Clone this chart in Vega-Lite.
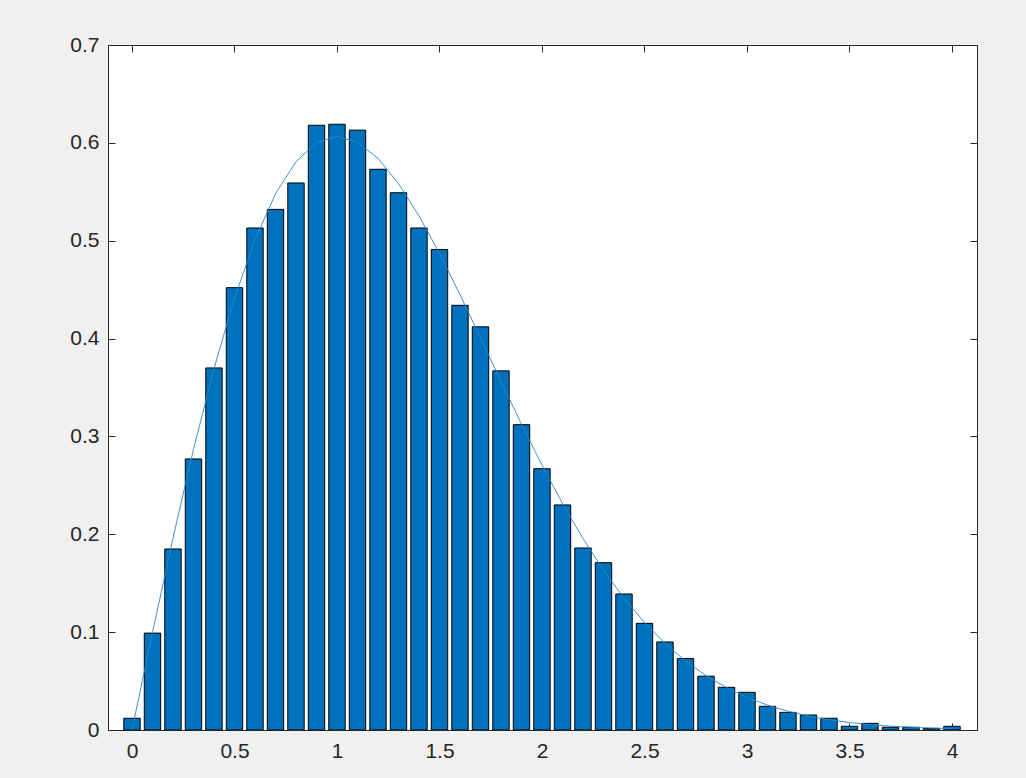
{
  "$schema": "https://vega.github.io/schema/vega-lite/v6.json",
  "width": 869,
  "height": 685,
  "autosize": {"type": "none"},
  "padding": {"left": 108, "top": 45, "right": 49, "bottom": 48},
  "background": "#f0f0f0",
  "view": {"fill": "white", "stroke": "#262626", "strokeWidth": 1},
  "config": {
    "axis": {
      "labelFont": "Liberation Sans",
      "labelFontSize": 21,
      "labelColor": "#262626",
      "domainColor": "#262626",
      "tickColor": "#262626",
      "tickSize": -7,
      "grid": false,
      "title": null,
      "format": "~g"
    }
  },
  "data": {
    "values": [
      {"x": 0.0, "h": 0.012, "pdf": 0.0},
      {"x": 0.1, "h": 0.099, "pdf": 0.0995},
      {"x": 0.2, "h": 0.185, "pdf": 0.1960},
      {"x": 0.3, "h": 0.277, "pdf": 0.2868},
      {"x": 0.4, "h": 0.370, "pdf": 0.3692},
      {"x": 0.5, "h": 0.452, "pdf": 0.4412},
      {"x": 0.6, "h": 0.513, "pdf": 0.5012},
      {"x": 0.7, "h": 0.532, "pdf": 0.5479},
      {"x": 0.8, "h": 0.559, "pdf": 0.5809},
      {"x": 0.9, "h": 0.618, "pdf": 0.6003},
      {"x": 1.0, "h": 0.619, "pdf": 0.6065},
      {"x": 1.1, "h": 0.613, "pdf": 0.6007},
      {"x": 1.2, "h": 0.573, "pdf": 0.5841},
      {"x": 1.3, "h": 0.549, "pdf": 0.5584},
      {"x": 1.4, "h": 0.513, "pdf": 0.5254},
      {"x": 1.5, "h": 0.491, "pdf": 0.4870},
      {"x": 1.6, "h": 0.434, "pdf": 0.4449},
      {"x": 1.7, "h": 0.412, "pdf": 0.4008},
      {"x": 1.8, "h": 0.367, "pdf": 0.3562},
      {"x": 1.9, "h": 0.312, "pdf": 0.3125},
      {"x": 2.0, "h": 0.267, "pdf": 0.2707},
      {"x": 2.1, "h": 0.230, "pdf": 0.2315},
      {"x": 2.2, "h": 0.186, "pdf": 0.1956},
      {"x": 2.3, "h": 0.171, "pdf": 0.1633},
      {"x": 2.4, "h": 0.139, "pdf": 0.1347},
      {"x": 2.5, "h": 0.109, "pdf": 0.1098},
      {"x": 2.6, "h": 0.090, "pdf": 0.0885},
      {"x": 2.7, "h": 0.073, "pdf": 0.0705},
      {"x": 2.8, "h": 0.055, "pdf": 0.0556},
      {"x": 2.9, "h": 0.0436, "pdf": 0.0433},
      {"x": 3.0, "h": 0.0385, "pdf": 0.0333},
      {"x": 3.1, "h": 0.0242, "pdf": 0.0254},
      {"x": 3.2, "h": 0.018, "pdf": 0.0191},
      {"x": 3.3, "h": 0.0153, "pdf": 0.0143},
      {"x": 3.4, "h": 0.012, "pdf": 0.0105},
      {"x": 3.5, "h": 0.0038, "pdf": 0.00765},
      {"x": 3.6, "h": 0.0068, "pdf": 0.00552},
      {"x": 3.7, "h": 0.0028, "pdf": 0.00394},
      {"x": 3.8, "h": 0.0028, "pdf": 0.00278},
      {"x": 3.9, "h": 0.0017, "pdf": 0.00194},
      {"x": 4.0, "h": 0.0038, "pdf": 0.00134}
    ]
  },
  "layer": [
    {
      "mark": {"type": "bar", "width": 16.4, "fill": "#0072BD", "stroke": "#000000", "strokeWidth": 1, "clip": true},
      "encoding": {
        "x": {
          "field": "x", "type": "quantitative",
          "scale": {"domain": [-0.117, 4.122], "nice": false, "zero": false, "padding": 0},
          "axis": {"orient": "bottom", "values": [0, 0.5, 1, 1.5, 2, 2.5, 3, 3.5, 4], "labelPadding": 17, "labelFlush": false}
        },
        "y": {
          "field": "h", "type": "quantitative",
          "scale": {"domain": [0, 0.7], "nice": false, "padding": 0},
          "axis": {"orient": "left", "values": [0, 0.1, 0.2, 0.3, 0.4, 0.5, 0.6, 0.7], "labelPadding": 16, "labelFlush": false}
        }
      }
    },
    {
      "mark": {"type": "line", "stroke": "#2a86cc", "strokeWidth": 0.9},
      "encoding": {
        "x": {
          "field": "x", "type": "quantitative",
          "axis": {"orient": "top", "values": [0, 0.5, 1, 1.5, 2, 2.5, 3, 3.5, 4], "labels": false, "domain": false}
        },
        "y": {
          "field": "pdf", "type": "quantitative",
          "axis": {"orient": "right", "values": [0, 0.1, 0.2, 0.3, 0.4, 0.5, 0.6, 0.7], "labels": false, "domain": false}
        }
      }
    }
  ],
  "resolve": {"axis": {"x": "independent", "y": "independent"}}
}
